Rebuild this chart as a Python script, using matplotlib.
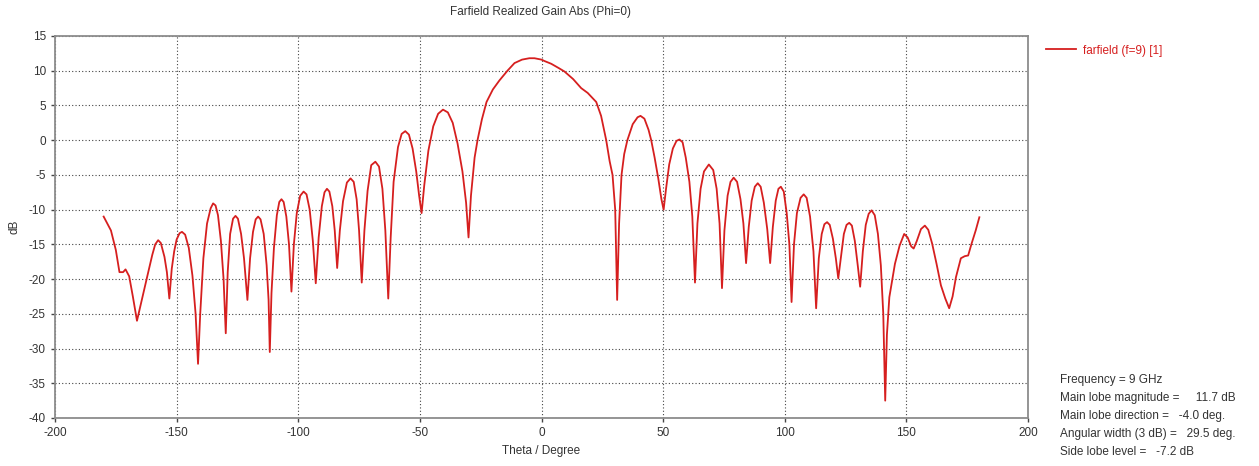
import matplotlib
matplotlib.use("Agg")
import matplotlib.pyplot as plt

# ---- data ----
theta = [
    -180, -177, -175, -173.5, -172, -171, -169.5, -168, -166.3, -164, -162, -160,
    -158.8, -157.6, -156.5, -155, -154, -153, -152, -151, -150, -148.8, -147.8,
    -146.5, -145, -143.5, -142.2, -141.2, -140.3, -139, -137.5, -136, -135, -134,
    -133, -131.8, -130.7, -129.8, -129, -128, -126.8, -125.8, -124.8, -123.5,
    -122.3, -120.9, -119.8, -118.6, -117.5, -116.5, -115.5, -114.2, -113, -112.2,
    -111.7, -111, -110, -108.8, -107.8, -106.9, -106, -104.9, -103.8, -102.8,
    -101.8, -100.6, -99.2, -97.8, -96.6, -95.3, -94, -92.8, -91.6, -90.3, -89.2,
    -88.2, -87.2, -86, -85, -84, -82.9, -81.6, -80, -78.5, -77.2, -76, -75, -73.9,
    -72.8, -71.5, -70, -68.3, -66.8, -65.4, -64.2, -63, -62, -60.8, -59, -57.5,
    -56, -54.5, -53, -51.5, -50.3, -49.3, -48.2, -46.5, -44.5, -42.5, -40.5,
    -38.5, -36.5, -34.5, -32.5, -31, -30, -29, -27.5, -26.3, -24.5, -22.6, -20,
    -17.3, -14, -11.1, -8, -5, -2.9, 0, 1.2, 4, 7, 9.4, 13, 16.3, 19, 22.5, 24.5,
    26.6, 28, 29.2, 30.3, 31.1, 31.9, 32.9, 34, 35.3, 37.5, 39.5, 40.7, 42.3, 44,
    45.1, 46.5, 48, 49.3, 50.2, 51.2, 52.5, 54, 55.5, 56.7, 58, 59.3, 60.8, 62,
    63.1, 64.1, 65.4, 66.8, 68.8, 70.6, 72, 73.2, 74.2, 75.2, 76.5, 77.7, 79,
    80.4, 81.8, 83, 84.1, 85.2, 86.4, 87.7, 88.9, 90.1, 91.4, 92.8, 94, 95.1,
    96.3, 97.4, 98.4, 99.6, 100.8, 101.9, 102.8, 103.8, 105, 106.5, 107.8, 109,
    110.4, 111.8, 112.9, 114, 115.2, 116.3, 117.4, 118.5, 119.8, 121, 122, 123.2,
    124.3, 125.4, 126.5, 127.6, 128.8, 130, 131, 132.1, 133.3, 134.5, 135.7, 137,
    138.3, 139.5, 140.5, 141.3, 142, 143, 145.3, 147.2, 149.1, 150.5, 152, 153,
    154.3, 156, 157.6, 159, 160.6, 162.4, 164.2, 166, 167.6, 169, 170.4, 172.4,
    174, 175.4, 176.8, 178.5, 180,
]
gain_db = [
    -11.0, -13.0, -15.8, -19.0, -19.0, -18.6, -19.6, -22.5, -26.0, -22.5, -19.5, -16.5,
    -15.0, -14.4, -14.8, -16.8, -19.0, -22.8, -18.5, -16.0, -14.3, -13.4, -13.2,
    -13.6, -15.5, -19.5, -25.0, -32.2, -25.0, -17.0, -12.0, -9.8, -9.1, -9.4,
    -10.8, -14.5, -20.0, -27.8, -19.0, -13.5, -11.3, -10.9, -11.3, -13.5,
    -17.0, -23.0, -17.0, -13.2, -11.4, -11.0, -11.4, -13.5, -18.0, -23.0,
    -30.5, -22.0, -15.5, -10.8, -8.9, -8.5, -8.9, -11.0, -15.0, -21.8,
    -15.0, -10.5, -8.0, -7.4, -7.8, -10.0, -14.5, -20.6, -14.0, -9.5, -7.5,
    -7.0, -7.4, -9.5, -13.0, -18.4, -13.0, -8.8, -6.1, -5.5, -6.0, -8.5, -13.0, -20.5,
    -13.0, -7.3, -3.6, -3.1, -3.8, -7.0, -13.0, -22.8, -14.0, -6.0, -1.0, 0.9,
    1.3, 0.8, -1.2, -4.5, -8.0, -10.5, -6.5, -1.5, 2.0, 3.8, 4.4,
    4.0, 2.5, -0.5, -4.5, -9.0, -14.0, -8.0, -2.5, 0.0, 3.0, 5.5, 7.3,
    8.6, 10.0, 11.1, 11.6, 11.8, 11.8, 11.6, 11.4, 11.0, 10.4, 9.9, 8.8, 7.5, 6.8, 5.5, 3.5,
    0.0, -3.0, -5.0, -10.0, -23.0, -12.0, -5.0, -2.0, 0.0, 2.3, 3.3, 3.5, 3.1, 1.5,
    0.0, -2.5, -5.5, -8.5, -10.0, -7.0, -3.5, -1.2, -0.1, 0.1, -0.3, -2.5, -6.0, -11.0,
    -20.5, -12.0, -7.0, -4.5, -3.5, -4.3, -7.0, -12.0, -21.3, -13.0, -8.0, -6.0, -5.4,
    -6.0, -8.5, -12.0, -17.7, -12.5, -8.7, -6.7, -6.2, -6.7, -9.0, -12.8, -17.7, -12.5,
    -8.7, -7.0, -6.7, -7.4, -10.5, -15.0, -23.3, -15.0, -10.5, -8.3, -7.8, -8.3,
    -11.0, -16.0, -24.2, -17.0, -13.5, -12.1, -11.8, -12.2, -14.2, -17.0, -19.9, -16.5,
    -13.5, -12.2, -11.9, -12.3, -14.5, -18.0, -21.1, -16.0, -12.2, -10.6, -10.1, -10.8,
    -13.5, -18.0, -25.0, -37.5, -28.0, -22.6, -17.8, -15.2, -13.5, -14.0, -15.3, -15.6,
    -14.5, -12.8, -12.3, -12.9, -14.9, -17.8, -20.9, -22.8, -24.2, -22.5, -19.7, -17.0,
    -16.7, -16.6, -14.9, -13.0, -11.1,
]

x_ticks = [-200, -150, -100, -50, 0, 50, 100, 150, 200]
y_ticks = [15, 10, 5, 0, -5, -10, -15, -20, -25, -30, -35, -40]

title = "Farfield Realized Gain Abs (Phi=0)"
series_label = "farfield (f=9) [1]"
info_lines = [
    "Frequency = 9 GHz",
    "Main lobe magnitude =     11.7 dB",
    "Main lobe direction =   -4.0 deg.",
    "Angular width (3 dB) =   29.5 deg.",
    "Side lobe level =   -7.2 dB",
]

plt.rcParams['font.family'] = ['Liberation Sans', 'DejaVu Sans']
plt.rcParams['axes.unicode_minus'] = False
W, H = 1259, 466
fig = plt.figure(figsize=(W / 100, H / 100), dpi=100)
fig.patch.set_facecolor('white')

ax = fig.add_axes([55 / W, 1 - 418 / H, (1028 - 55) / W, (418 - 36) / H])
red = '#d61f1f'
line, = ax.plot(theta, gain_db, color=red, lw=1.3, label=series_label)

ax.set_xlim(-200, 200)
ax.set_ylim(-40, 15)
ax.set_xticks(x_ticks)
ax.set_yticks(y_ticks)
ax.tick_params(axis='both', labelsize=8.5, colors='#444444', direction='out',
               length=3, width=1, labelcolor='#333333')
ax.grid(True, color='#444444', linestyle=(0, (1, 2)), linewidth=0.8)
for s in ax.spines.values():
    s.set_color('#8c8c8c')
    s.set_linewidth(1.3)

ax.set_xlabel("Theta / Degree", fontsize=8.5, color='#333333', labelpad=4)
fig.text(15 / W, 1 - 227 / H, "dB", rotation=90, fontsize=8.5, color='#333333',
         ha='center', va='center')
fig.text(541 / W, 1 - 12 / H, title, fontsize=8.5, color='#333333',
         ha='center', va='center')

leg = ax.legend(handles=[line], loc='upper left', bbox_to_anchor=(1035 / W, 1 - 34 / H),
                bbox_transform=fig.transFigure, frameon=False, fontsize=8.5,
                handlelength=2.6, handletextpad=0.6, labelcolor=red)

y0 = 380
for i, s in enumerate(info_lines):
    fig.text(1060 / W, 1 - (y0 + i * 18) / H, s, fontsize=8.5, color='#333333',
             ha='left', va='center')

fig.savefig("out.png", dpi=100, facecolor='white')
